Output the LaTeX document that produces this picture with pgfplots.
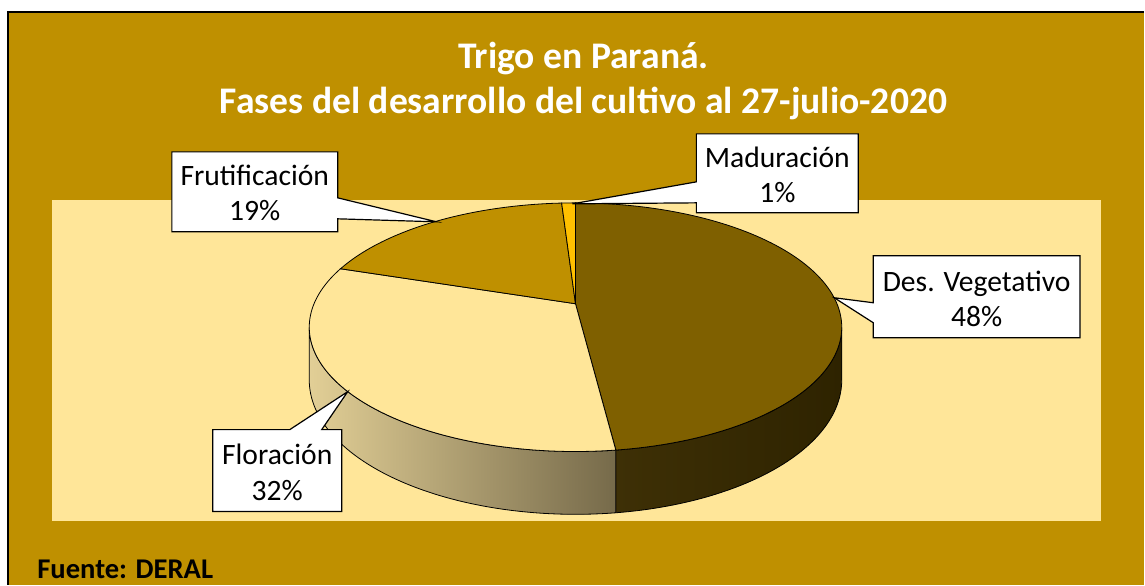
\documentclass[border=0pt]{standalone}
\usepackage{fontspec}
\setmainfont{Carlito}
\usepackage{pgfplots}
\pgfplotsset{compat=1.18}
\definecolor{gold}{RGB}{191,144,0}
\definecolor{pale}{RGB}{255,230,153}
\definecolor{desveg}{RGB}{127,96,0}
\definecolor{desvegSa}{RGB}{62,48,6}
\definecolor{desvegSb}{RGB}{46,35,0}
\definecolor{florSa}{RGB}{226,207,150}
\definecolor{florSb}{RGB}{118,106,74}
\definecolor{matur}{RGB}{255,192,0}
% data (percent)
\def\vDes{48}% Des. Vegetativo
\def\vFlo{32}% Floracion
\def\vFru{19}% Frutificacion
\def\vMad{1}%  Maduracion
\begin{document}
\begin{tikzpicture}
\pgfmathsetmacro\tot{\vDes+\vFlo+\vFru+\vMad}
\pgfmathsetmacro\aA{\vDes/\tot*360}
\pgfmathsetmacro\aB{\aA+\vFlo/\tot*360}
\pgfmathsetmacro\aC{\aB+\vFru/\tot*360}
\pgfmathsetmacro\aD{\aC+\vMad/\tot*360}
\begin{axis}[x=0.5pt,y=0.5pt,xmin=0,xmax=1145,ymin=0,ymax=585,y dir=reverse,
  hide axis,clip=false,
  declare function={
    PX(\t)=576+261.7*sin(\t)/(1+0.1887*cos(\t));
    PY(\t)=304-120*cos(\t)/(1+0.1887*cos(\t));
    HB(\t)=51/(1+0.1887*cos(\t));
    TH(\s,\a,\b)=(\s<=1)*(\a+\s*(\b-\a))+(\s>1)*(\s<=2)*\b+(\s>2)*(\b-(\s-2)*(\b-\a));
    DY(\s)=min(max(\s-1,0),1);
  }]
% background
\fill[white] (axis cs:0,0) rectangle (axis cs:1145,585);
\fill[gold] (axis cs:8,12) rectangle (axis cs:1145,585);
\draw[black,line width=1pt] (axis cs:8,585) -- (axis cs:8,12) -- (axis cs:1145,12);
\fill[pale] (axis cs:52,200) rectangle (axis cs:1102,521);
% title
\node[text=white,font=\bfseries\fontsize{18.8}{22.5}\selectfont,align=center] at (axis cs:584,81.5)
  {Trigo en Paraná.\\Fases del desarrollo del cultivo al 27-julio-2020};
% sides
\addplot[draw=black,line width=0.4pt,left color=desvegSa,right color=desvegSb,domain=0:3,samples=181,variable=\s]
  ({PX(TH(\s,100.9,\aA))},{PY(TH(\s,100.9,\aA))+DY(\s)*HB(TH(\s,100.9,\aA))}) -- cycle;
\addplot[draw=black,line width=0.4pt,left color=florSa,right color=florSb,domain=0:3,samples=181,variable=\s]
  ({PX(TH(\s,\aA,259.1))},{PY(TH(\s,\aA,259.1))+DY(\s)*HB(TH(\s,\aA,259.1))}) -- cycle;
% top faces
\addplot[draw=black,line width=0.4pt,fill=desveg,domain=0:1,samples=100,variable=\s]
  ({PX(\s*\aA)},{PY(\s*\aA)}) -- (axis cs:576,304) -- cycle;
\addplot[draw=black,line width=0.4pt,fill=pale,domain=0:1,samples=80,variable=\s]
  ({PX(\aA+\s*(\aB-\aA))},{PY(\aA+\s*(\aB-\aA))}) -- (axis cs:576,304) -- cycle;
\addplot[draw=black,line width=0.4pt,fill=gold,domain=0:1,samples=50,variable=\s]
  ({PX(\aB+\s*(\aC-\aB))},{PY(\aB+\s*(\aC-\aB))}) -- (axis cs:576,304) -- cycle;
\addplot[draw=black,line width=0.4pt,fill=matur,domain=0:1,samples=5,variable=\s]
  ({PX(\aC+\s*(\aD-\aC))},{PY(\aC+\s*(\aD-\aC))}) -- (axis cs:576,304) -- cycle;
% labels
\tikzset{lab/.style={font=\fontsize{14.8}{17.8}\selectfont,align=center,text=black}}
\draw[fill=white,line width=0.6pt] (axis cs:172,152) -- (axis cs:338,152) -- (axis cs:338,198) -- (axis cs:437,222) -- (axis cs:338,219) -- (axis cs:338,232) -- (axis cs:172,232) -- cycle;
\node[lab] at (axis cs:255,193) {Frutificación\\19\%};
\draw[fill=white,line width=0.6pt] (axis cs:697,134) -- (axis cs:859,134) -- (axis cs:859,213) -- (axis cs:697,213) -- (axis cs:697,203) -- (axis cs:573,204) -- (axis cs:697,182) -- cycle;
\node[lab] at (axis cs:778,175) {Maduración\\1\%};
\draw[fill=white,line width=0.6pt] (axis cs:874,256) -- (axis cs:1081,256) -- (axis cs:1081,338) -- (axis cs:874,338) -- (axis cs:874,323) -- (axis cs:835,298) -- (axis cs:874,303) -- cycle;
\node[lab] at (axis cs:977.5,299) {Des. Vegetativo\\48\%};
\draw[fill=white,line width=0.6pt] (axis cs:213,430) -- (axis cs:290,430) -- (axis cs:348,392) -- (axis cs:322,430) -- (axis cs:342,430) -- (axis cs:342,512) -- (axis cs:213,512) -- cycle;
\node[lab] at (axis cs:277.5,473) {Floración\\32\%};
% source
\node[anchor=west,inner sep=0pt,font=\bfseries\fontsize{14.3}{17}\selectfont,text=black] at (axis cs:37,570) {Fuente: DERAL};
\end{axis}
\end{tikzpicture}
\end{document}
